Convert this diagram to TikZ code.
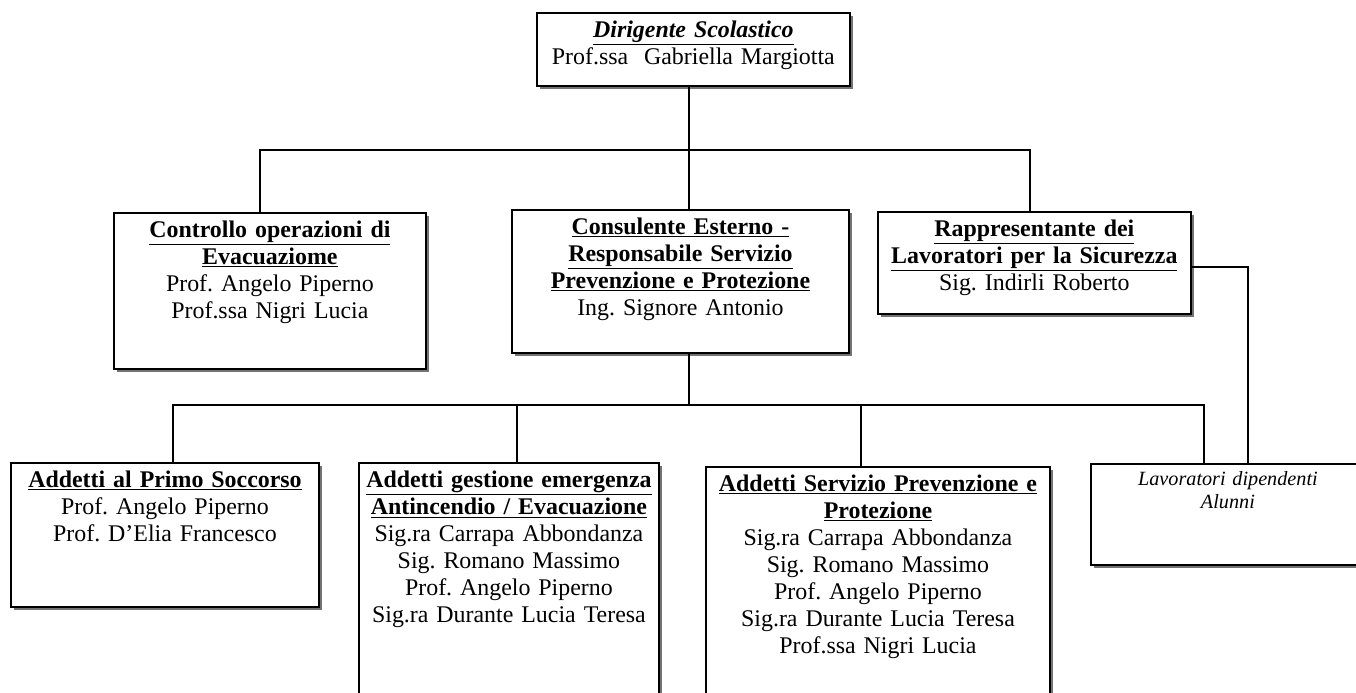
\documentclass[tikz,border=0pt]{standalone}
\usepackage{fontspec}
\setmainfont{Liberation Serif}
\usetikzlibrary{shadows}
\frenchspacing

\begin{document}
\begin{tikzpicture}[
			x=0.02cm, y=-0.02cm,
			font=\fontsize{13.6}{15.4}\selectfont,
			box/.style 2 args={rectangle, draw, line width=1.1pt, fill=white,
				anchor=north west, align=center, inner xsep=2pt, inner ysep=4pt,
				text height=9.7pt, text width=#1, text depth=#2,
				drop shadow={shadow xshift=1.6pt, shadow yshift=-1.6pt, fill=black!55, opacity=1}},
			link/.style={draw, line width=1pt},
			]
			\useasboundingbox (0,0) rectangle (1356,693);
			\node [box={174pt}{23.8pt}] (dir) at (536,12) {\underline{\textbf{\textit{Dirigente Scolastico}}}\\ Prof.ssa~ Gabriella Margiotta};
			\node [box={173.5pt}{71.1pt}] (contr) at (113,212) {\underline{\textbf{Controllo operazioni di}}\\ \underline{\textbf{Evacuaziome}}\\ Prof. Angelo Piperno\\ Prof.ssa Nigri Lucia};
			\node [box={187.8pt}{63.7pt}] (consul) at (511,209) {\underline{\textbf{Consulente Esterno -}}\\ \underline{\textbf{Responsabile Servizio}}\\ \underline{\textbf{Prevenzione e Protezione}}\\ Ing. Signore Antonio};
			\node [box={174pt}{40.3pt}] (rappr) at (877,211) {\underline{\textbf{Rappresentante dei}}\\ \underline{\textbf{Lavoratori per la Sicurezza}}\\ Sig. Indirli Roberto};
			\node [box={171.3pt}{64.2pt}] (primo) at (10,462) {\underline{\textbf{Addetti al Primo Soccorso}}\\ Prof. Angelo Piperno\\ Prof. D'Elia Francesco};
			\node [box={166.7pt}{140.5pt}] (gest) at (358,462) {\underline{\textbf{Addetti gestione emergenza}}\\ \underline{\textbf{Antincendio / Evacuazione}}\\ Sig.ra Carrapa Abbondanza\\ Sig. Romano Massimo\\ Prof. Angelo Piperno\\ Sig.ra Durante Lucia Teresa};
			\node [box={191.8pt}{138.2pt}] (serv) at (705,466) {\underline{\textbf{Addetti Servizio Prevenzione e}}\\ \underline{\textbf{Protezione}}\\ Sig.ra Carrapa Abbondanza\\ Sig. Romano Massimo\\ Prof. Angelo Piperno\\ Sig.ra Durante Lucia Teresa\\ Prof.ssa Nigri Lucia};
			\node [box={151.9pt}{41pt}, text height=8.5pt, font=\fontsize{11.5}{13}\selectfont\itshape] (lavor) at (1090,463) {Lavoratori dipendenti\\ Alunni};
			\coordinate (busT) at (689,150);
			\coordinate (busTL) at (260,150);
			\coordinate (busTR) at (1030,150);
			\coordinate (busB) at (689,405);
			\coordinate (busB1) at (173,405);
			\coordinate (busB2) at (517,405);
			\coordinate (busB3) at (861,405);
			\coordinate (busB4) at (1204,405);
			\coordinate (rjoin) at (1248,267);
			\path [link] (dir.south -| busT) -- (busT);
			\path [link] (busTL |- contr.north) -- (busTL) -- (busTR) -- (busTR |- rappr.north);
			\path [link] (busT) -- (busT |- consul.north);
			\path [link] (consul.south -| busB) -- (busB);
			\path [link] (busB1 |- primo.north) -- (busB1) -- (busB4) -- (busB4 |- lavor.north);
			\path [link] (busB2) -- (busB2 |- gest.north);
			\path [link] (busB3) -- (busB3 |- serv.north);
			\path [link] (rappr.east |- rjoin) -- (rjoin) -- (rjoin |- lavor.north);
		\end{tikzpicture}
\end{document}
